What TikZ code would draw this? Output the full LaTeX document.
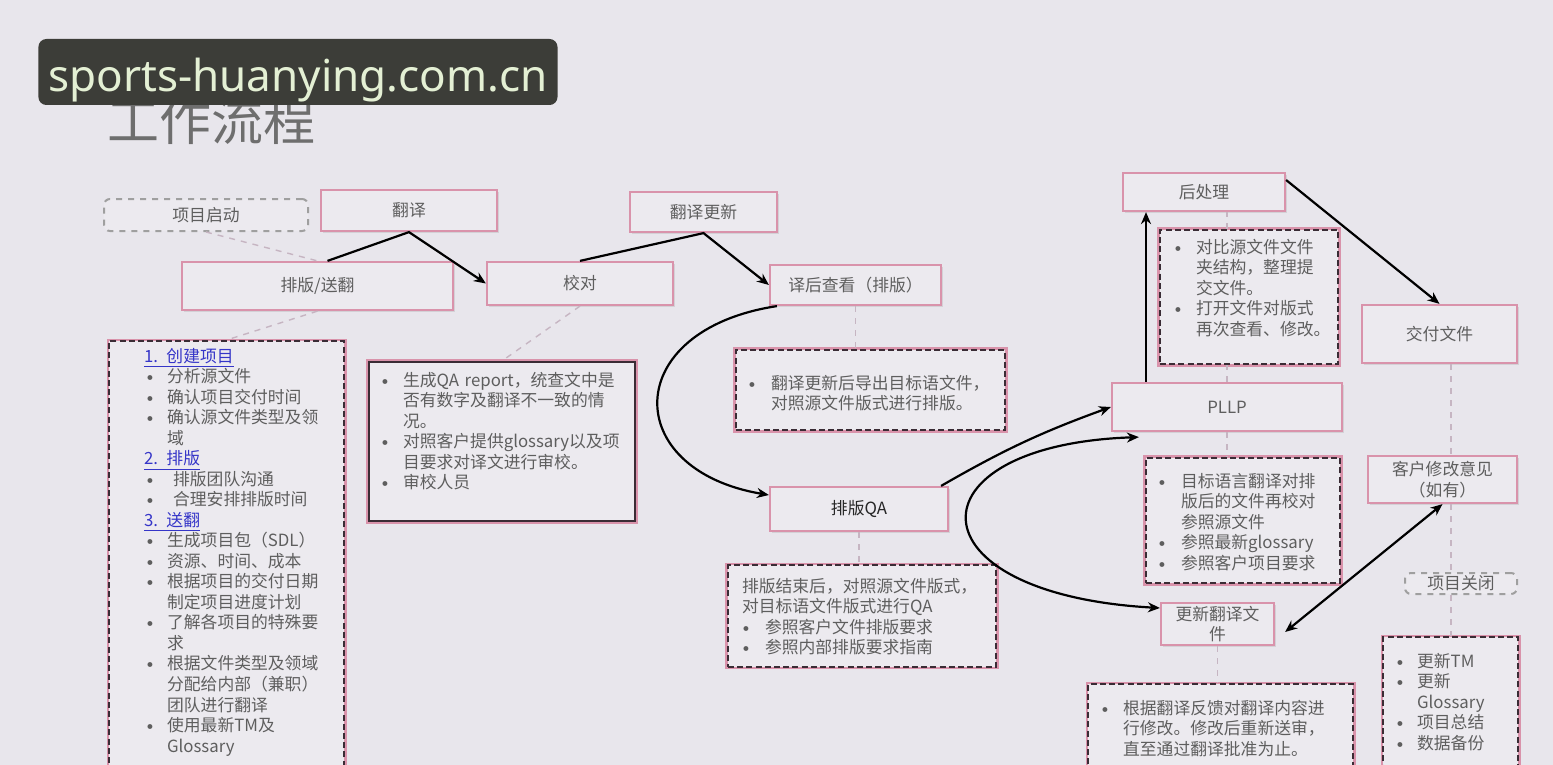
\documentclass[tikz,border=0pt]{standalone}
\usepackage{fontspec}
\setmainfont{Noto Sans CJK SC}
\newfontfamily\wmfont{Noto Sans}
\usetikzlibrary{arrows.meta,shadows}

\definecolor{bgcol}{HTML}{E8E6EC}
\definecolor{boxfill}{HTML}{ECEAEF}
\definecolor{pinkline}{HTML}{D993AB}
\definecolor{notedark}{HTML}{3A2C35}
\definecolor{textgrey}{HTML}{5E5E5E}
\definecolor{titlegrey}{HTML}{6E6E6E}
\definecolor{headblue}{HTML}{3535C8}
\definecolor{linkgrey}{HTML}{C6B5C2}
\definecolor{wmdark}{HTML}{3C3D38}
\definecolor{wmtext}{HTML}{E4F0D4}

\newcommand\bl{\makebox[4pt]{\raisebox{.25ex}{\tiny$\bullet$}}}

\tikzset{
  box/.style={draw=pinkline,fill=boxfill,line width=1.1pt,text=textgrey,align=center,inner sep=1pt,drop shadow={opacity=.2,shadow xshift=1.2pt,shadow yshift=-1.2pt}},
  phase/.style={draw=gray!75,dashed,rounded corners=3pt,line width=1pt,fill=boxfill,text=textgrey,inner sep=1pt},
  note/.style={preaction={draw=pinkline,solid,line width=2.6pt},draw=notedark,dash pattern=on 3pt off 1.6pt,line width=1.1pt,fill=boxfill,text=textgrey,align=left},
  notesolid/.style={note,solid},
  link/.style={draw=linkgrey,dashed,line width=.7pt},
  flow/.style={draw=black,line width=1.1pt,->}
}

\begin{document}
\begin{tikzpicture}[x=0.5pt,y=-0.5pt,font=\fontsize{8.4}{10.25}\selectfont,>={Stealth[length=6pt,width=5pt]}]
\useasboundingbox (0,0) rectangle (1553,765);
\fill[bgcol] (0,0) rectangle (1553,765);
\node[anchor=west,inner sep=0pt,text=titlegrey,font=\fontsize{26}{30}\selectfont] (23) at (107,121) {工作流程};

\node[phase,minimum width=102pt,minimum height=16pt] (0) at (206,215) {项目启动};
\node[box,minimum width=88pt,minimum height=20.5pt] (1) at (409,210.5) {翻译};
\node[box,minimum width=135.5pt,minimum height=24pt] (2) at (317.5,286) {排版/送翻};
\node[box,minimum width=93pt,minimum height=21.5pt] (3) at (580,283.5) {校对};
\node[box,minimum width=73.5pt,minimum height=20pt] (4) at (703.5,212) {翻译更新};
\node[box,minimum width=85.5pt,minimum height=20pt] (5) at (855.5,285) {译后查看（排版）};
\node[box,minimum width=89pt,minimum height=22pt,text=black!85] (6) at (859,509) {排版QA};
\node[box,minimum width=115pt,minimum height=24pt] (7) at (1227,407) {PLLP};
\node[box,minimum width=81pt,minimum height=19pt] (8) at (1204,192) {后处理};
\node[box,minimum width=77.5pt,minimum height=29pt] (9) at (1439.5,334) {交付文件};
\node[box,minimum width=74.5pt,minimum height=23.5pt] (10) at (1442.5,479.5) {客户修改意见\\（如有）};
\node[phase,minimum width=56pt,minimum height=10.5pt] (11) at (1461,583.5) {项目关闭};
\node[box,minimum width=56.5pt,minimum height=21pt] (12) at (1217.5,624) {更新翻译文\\件};

\node[note,anchor=north west,text width=82.5pt,inner xsep=17.5pt,inner ysep=3.5pt] (13) at (108,340) {\begin{tabular}{@{\hspace{1pt}}l@{\hspace{6.5pt}}l@{}}
\multicolumn{2}{@{}l@{}}{\textcolor{headblue}{\underline{1. 创建项目}}}\\
\bl & 分析源文件\\
\bl & 确认项目交付时间\\
\bl & 确认源文件类型及领\\
 & 域\\
\multicolumn{2}{@{}l@{}}{\textcolor{headblue}{\underline{2. 排版}}}\\
\bl & \hspace{3pt}排版团队沟通\\
\bl & \hspace{3pt}合理安排排版时间\\
\multicolumn{2}{@{}l@{}}{\textcolor{headblue}{\underline{3. 送翻}}}\\
\bl & 生成项目包（SDL）\\
\bl & 资源、时间、成本\\
\bl & 根据项目的交付日期\\
 & 制定项目进度计划\\
\bl & 了解各项目的特殊要\\
 & 求\\
\bl & 根据文件类型及领域\\
 & 分配给内部（兼职）\\
 & 团队进行翻译\\
\bl & 使用最新TM及\\
 & Glossary\\
\noalign{\vspace{12pt}}
\end{tabular}};
\node[notesolid,text width=121pt,inner xsep=6pt,minimum height=79.5pt] (14) at (502,441.5) {\begin{tabular}{@{}l@{\hspace{7pt}}l@{}}
\bl & 生成QA report，统查文中是\\
 & 否有数字及翻译不一致的情\\
 & 况。\\
\bl & 对照客户提供glossary以及项\\
 & 目要求对译文进行审校。\\
\bl & 审校人员\\
\noalign{\vspace{8pt}}
\end{tabular}};
\node[note,text width=122.5pt,inner xsep=6pt,minimum height=40pt] (15) at (870.5,390) {\begin{tabular}{@{}l@{\hspace{7.5pt}}l@{}}
\noalign{\vspace{5.5pt}}
\bl & 翻译更新后导出目标语文件，\\
 & 对照源文件版式进行排版。
\end{tabular}};
\node[note,text width=120pt,inner xsep=7pt,minimum height=46pt] (16) at (862,616) {\begin{tabular}{@{}l@{\hspace{7.5pt}}l@{}}
\noalign{\vspace{3pt}}
\multicolumn{2}{@{}l@{}}{排版结束后，对照源文件版式，}\\
\multicolumn{2}{@{}l@{}}{对目标语文件版式进行QA}\\
\bl & 参照客户文件排版要求\\
\bl & 参照内部排版要求指南
\end{tabular}};
\node[note,text width=75pt,inner xsep=7pt,minimum height=67pt] (17) at (1249,297) {\begin{tabular}{@{}l@{\hspace{7pt}}l@{}}
\bl & 对比源文件文件\\
 & 夹结构，整理提\\
 & 交文件。\\
\bl & 打开文件对版式\\
 & 再次查看、修改。\\
\noalign{\vspace{6.75pt}}
\end{tabular}};
\node[note,text width=85pt,inner xsep=6pt,minimum height=62.5pt] (18) at (1243,520.5) {\begin{tabular}{@{}l@{\hspace{7.5pt}}l@{}}
\noalign{\vspace{3.75pt}}
\bl & 目标语言翻译对排\\
 & 版后的文件再校对\\
 & 参照源文件\\
\bl & 参照最新glossary\\
\bl & 参照客户项目要求
\end{tabular}};
\node[note,anchor=north west,text width=119.5pt,inner xsep=6.5pt,inner ysep=8pt] (19) at (1087,683) {\begin{tabular}{@{}l@{\hspace{7pt}}l@{}}
\bl & 根据翻译反馈对翻译内容进\\
 & 行修改。修改后重新送审，\\
 & 直至通过翻译批准为止。\\
\noalign{\vspace{10pt}}
\end{tabular}};
\node[note,anchor=north west,text width=54.5pt,inner xsep=6.5pt,inner ysep=8pt] (20) at (1382,636) {\begin{tabular}{@{}l@{\hspace{6.5pt}}l@{}}
\bl & 更新TM\\
\bl & 更新\\
 & Glossary\\
\bl & 项目总结\\
\bl & 数据备份\\
\noalign{\vspace{10pt}}
\end{tabular}};
\coordinate (21) at (1451,0);
\coordinate (22) at (1146,0);

\path [link] (0.south) edge (2.north);
\path [link] (2.south) edge (13.north);
\path [link] (3.south) edge (14.north);
\path [link] (5.south) edge (5.south |- 15.north);
\path [link] (6.south) edge (6.south |- 16.north);
\path [link] (7.north) edge (7.north |- 17.south);
\path [link] (7.north |- 17.north) edge (7.north |- 8.south);
\path [link] (7.south) edge (7.south |- 18.north);
\path [link] (12.south) edge (12.south |- 19.north);
\path [link] (9.south -| 21) edge (10.north -| 21);
\path [link] (10.south -| 21) edge (11.north -| 21);
\path [link] (11.south -| 21) edge (20.north -| 21);

\draw [flow] ([xshift=5pt]2.north) -- (1.south) -- (3.west);
\draw [flow] (3.north) -- (4.south) -- (5.west);
\draw [flow] ([xshift=4pt]5.south west) .. controls (620,330) and (620,470) .. ([yshift=7pt]6.west);
\draw [flow] ([xshift=-4pt]6.north east) to[bend left=5] (7.west);
\draw [flow,<->] ([xshift=14pt,yshift=-2.5pt]7.south west) .. controls (907,445) and (907,594) .. ([yshift=8pt]12.west);
\draw [flow] (7.north -| 22) -- (8.south -| 22);
\draw [flow] ([yshift=6pt]8.east) -- (9.north);
\draw [flow,<->] ([xshift=5pt,yshift=-4pt]12.east) -- (10.south);

\node[anchor=base west,fill=wmdark,rounded corners=4pt,inner xsep=5pt,inner ysep=0.5pt,text height=26pt,text depth=6pt,text=wmtext,font=\wmfont\fontsize{22}{26}\selectfont] (24) at (38,92) {sports-huanying.com.cn};
\end{tikzpicture}
\end{document}
